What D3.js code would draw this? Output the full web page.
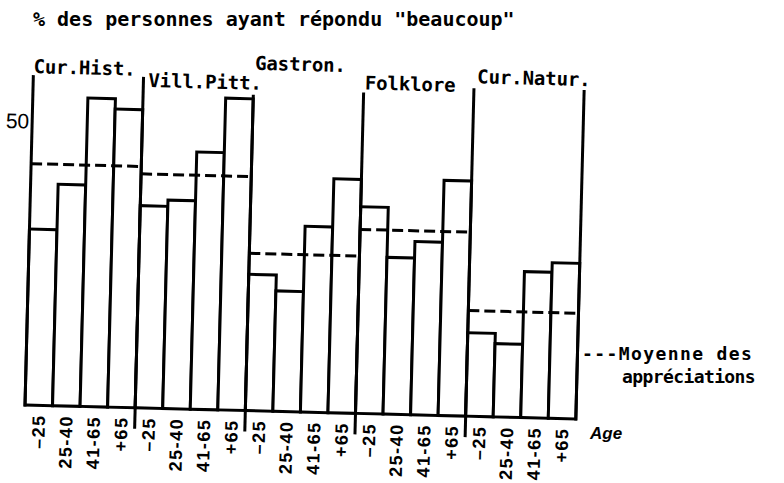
<!DOCTYPE html>
<html>
<head>
<meta charset="utf-8">
<script src="https://cdn.jsdelivr.net/npm/d3@7"></script>
<style>
  body { margin: 0; background: #fff; }
  svg { display: block; }
</style>
</head>
<body>
<script>
// Data (% answering "beaucoup")
var groups = ['Cur.Hist.', 'Vill.Pitt.', 'Gastron.', 'Folklore', 'Cur.Natur.'];
var ages = ['–25', '25-40', '41-65', '+65'];

var curHist = [31, 39, 54.3, 52.5];
var villPitt = [35.6, 36.7, 45.3, 54.9];
var gastron = [24, 21.2, 32.7, 41.2];
var folklore = [36.4, 27.6, 30.5, 41.4];
var curNatur = [14.7, 12.9, 25.7, 27.4];

var means = [42.5, 41.2, 27.7, 32.4, 18.6];
var yTicks = [50];

// Layout
var svgWidth = 784;
var svgHeight = 483;
var left = 25, right = 576, base = 405, top50 = 121;
var tilt = 1.45; // the original scan is slightly rotated

var frameTop = [75, 74, 89, 84, 77, 76];
var labelDx = [0, 5, 1, 1, 3];
var labelY = [73, 84, 64, 81, 72];

var series = [curHist, villPitt, gastron, folklore, curNatur];

var svg = d3.select('body').append('svg')
  .attr('width', svgWidth)
  .attr('height', svgHeight);

var mono = "'DejaVu Sans Mono', monospace";
var sans = "'Liberation Sans', Arial, sans-serif";

// Scales
var xGroup = d3.scaleBand().domain(groups).range([left, right]).padding(0);
var xAge = d3.scaleBand().domain(ages).range([0, xGroup.bandwidth()]).padding(0);
var yScale = d3.scaleLinear().domain([0, 50]).range([base, top50]);

var chart = svg.append('g')
  .attr('transform', 'rotate(' + tilt + ',' + left + ',' + base + ')');

// Bars
var barData = [];
groups.forEach(function(g, i) {
  ages.forEach(function(a, j) {
    barData.push({group: g, age: a, value: series[i][j]});
  });
});

chart.selectAll('rect.bar')
  .data(barData)
  .enter()
  .append('rect')
  .attr('class', 'bar')
  .attr('x', function(d) { return xGroup(d.group) + xAge(d.age); })
  .attr('y', function(d) { return yScale(d.value); })
  .attr('width', xAge.bandwidth())
  .attr('height', function(d) { return base - yScale(d.value); })
  .attr('fill', '#fff')
  .attr('stroke', '#000')
  .attr('stroke-width', 3);

// Mean lines (dashed)
chart.selectAll('line.mean')
  .data(means)
  .enter()
  .append('line')
  .attr('class', 'mean')
  .attr('x1', function(d, i) { return xGroup(groups[i]); })
  .attr('x2', function(d, i) { return xGroup(groups[i]) + xGroup.bandwidth(); })
  .attr('y1', function(d) { return yScale(d); })
  .attr('y2', function(d) { return yScale(d); })
  .attr('stroke', '#000')
  .attr('stroke-width', 3)
  .attr('stroke-dasharray', '11,5');

// Group frame lines
var bounds = groups.map(function(g) { return xGroup(g); }).concat([right]);
chart.selectAll('line.frame')
  .data(bounds)
  .enter()
  .append('line')
  .attr('class', 'frame')
  .attr('x1', function(d) { return d; })
  .attr('x2', function(d) { return d; })
  .attr('y1', function(d, i) { return frameTop[i]; })
  .attr('y2', function(d, i) { return (i === 0 || i === bounds.length - 1) ? base + 1.5 : base + 21; })
  .attr('stroke', '#000')
  .attr('stroke-width', 3);

// Group labels
chart.selectAll('text.group')
  .data(groups)
  .enter()
  .append('text')
  .attr('class', 'group')
  .attr('x', function(d, i) { return xGroup(d) + labelDx[i]; })
  .attr('y', function(d, i) { return labelY[i]; })
  .attr('font-family', mono)
  .attr('font-weight', 'bold')
  .attr('font-size', 19)
  .attr('letter-spacing', -0.1)
  .text(function(d) { return d; });

// Age tick labels
chart.selectAll('text.age')
  .data(barData)
  .enter()
  .append('text')
  .attr('class', 'age')
  .attr('transform', function(d) {
    var cx = xGroup(d.group) + xAge(d.age) + xAge.bandwidth() / 2;
    return 'translate(' + cx + ',' + (base + 9) + ') rotate(-90)';
  })
  .attr('dy', '0.36em')
  .attr('text-anchor', 'end')
  .attr('font-family', sans)
  .attr('font-weight', 'bold')
  .attr('font-size', 18)
  .attr('letter-spacing', 1.5)
  .text(function(d) { return d.age; });

// Y value label
chart.selectAll('text.ytick')
  .data(yTicks)
  .enter()
  .append('text')
  .attr('class', 'ytick')
  .attr('x', left - 3)
  .attr('y', function(d) { return yScale(d); })
  .attr('dy', '0.36em')
  .attr('text-anchor', 'end')
  .attr('font-family', sans)
  .attr('font-size', 21)
  .text(function(d) { return d; });

// Title
svg.append('text')
  .attr('x', 33)
  .attr('y', 26)
  .attr('font-family', mono)
  .attr('font-weight', 'bold')
  .attr('font-size', 20)
  .attr('letter-spacing', 0)
  .text('% des personnes ayant répondu "beaucoup"');

// Legend
svg.append('text')
  .attr('x', 582)
  .attr('y', 360)
  .attr('font-family', mono)
  .attr('font-weight', 'bold')
  .attr('font-size', 18)
  .attr('letter-spacing', 1.4)
  .text('---Moyenne des');

svg.append('text')
  .attr('x', 622)
  .attr('y', 383)
  .attr('font-family', mono)
  .attr('font-weight', 'bold')
  .attr('font-size', 18)
  .attr('letter-spacing', -0.6)
  .text('appréciations');

// Axis name
svg.append('text')
  .attr('x', 590)
  .attr('y', 439)
  .attr('font-family', sans)
  .attr('font-style', 'italic')
  .attr('font-weight', 'bold')
  .attr('font-size', 17)
  .text('Age');
</script>
</body>
</html>
